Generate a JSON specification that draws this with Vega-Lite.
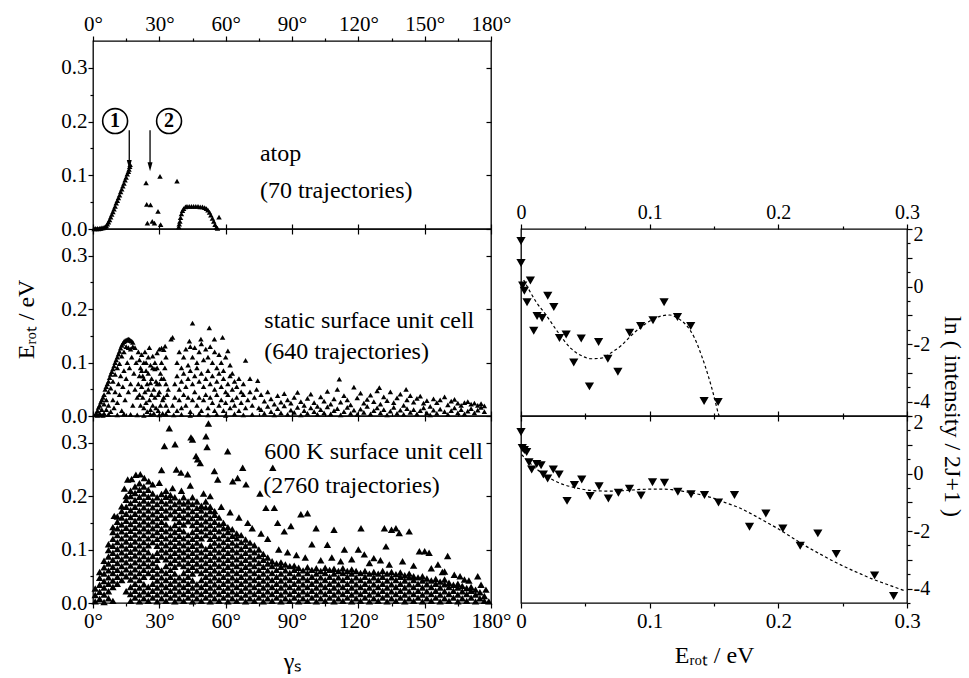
{
"$schema":"https://vega.github.io/schema/vega-lite/v6.json",
"background":"white",
"padding":{"left":13,"top":12,"right":5,"bottom":2},
"config":{"font":"'Liberation Serif', 'Times New Roman', serif","view":{"stroke":"black","strokeWidth":1.3},"axis":{"labelFont":"'Liberation Serif', 'Times New Roman', serif","labelFontSize":20,"labelColor":"black","titleFont":"'Liberation Serif', 'Times New Roman', serif","titleFontSize":23,"titleFontWeight":"normal","titleColor":"black","tickColor":"black","tickWidth":1.2,"grid":false,"domain":false},"text":{"font":"'Liberation Serif', 'Times New Roman', serif","color":"black"}},
"datasets":{
"atop":[{"g":0.5,"e":0},{"g":1,"e":0.001},{"g":1.5,"e":0},{"g":2,"e":0.001},{"g":2.5,"e":0},{"g":3,"e":0.001},{"g":3.5,"e":0.001},{"g":4,"e":0.002},{"g":4.5,"e":0.002},{"g":5,"e":0.003},{"g":5.5,"e":0.004},{"g":6,"e":0.006},{"g":6.5,"e":0.009},{"g":7,"e":0.013},{"g":7.5,"e":0.017},{"g":8,"e":0.022},{"g":8.5,"e":0.027},{"g":9,"e":0.032},{"g":9.5,"e":0.037},{"g":10,"e":0.042},{"g":10.5,"e":0.048},{"g":11,"e":0.053},{"g":11.5,"e":0.058},{"g":12,"e":0.063},{"g":12.5,"e":0.069},{"g":13,"e":0.074},{"g":13.5,"e":0.08},{"g":14,"e":0.085},{"g":14.5,"e":0.091},{"g":15,"e":0.096},{"g":15.5,"e":0.102},{"g":16,"e":0.107},{"g":16.3,"e":0.111},{"g":16.6,"e":0.116},{"g":16.8,"e":0.12},
{"g":24,"e":0.086},{"g":30.3,"e":0.098},{"g":38,"e":0.089},{"g":24.3,"e":0.046},{"g":26,"e":0.045},{"g":29.4,"e":0.033},{"g":24.6,"e":0.011},{"g":26.8,"e":0.014},{"g":27.8,"e":0.011},{"g":30.6,"e":0.008},{"g":38.8,"e":0.004},{"g":39,"e":0.009},
{"g":39.3,"e":0.014},{"g":39.6,"e":0.021},{"g":40,"e":0.028},{"g":40.5,"e":0.034},{"g":41,"e":0.038},{"g":41.8,"e":0.041},{"g":42.5,"e":0.042},{"g":43.5,"e":0.042},{"g":44.5,"e":0.042},{"g":45.5,"e":0.042},{"g":46.5,"e":0.042},{"g":47.5,"e":0.042},{"g":48.5,"e":0.041},{"g":49.5,"e":0.041},{"g":50.5,"e":0.04},{"g":51.3,"e":0.038},{"g":52,"e":0.035},{"g":52.7,"e":0.031},{"g":53.3,"e":0.026},{"g":54,"e":0.02},{"g":54.6,"e":0.014},{"g":55.2,"e":0.008},{"g":55.8,"e":0.003},{"g":56.3,"e":0.001},{"g":57,"e":0.022}],
"stat":[{"g":1,"e":0.002},{"g":1.5,"e":0.005},{"g":2,"e":0.01},{"g":2.5,"e":0.016},{"g":3,"e":0.02},{"g":3.5,"e":0.026},{"g":4,"e":0.03},{"g":4.5,"e":0.035},{"g":5,"e":0.04},{"g":5.5,"e":0.05},{"g":6,"e":0.055},{"g":6.5,"e":0.06},{"g":7,"e":0.065},{"g":7.5,"e":0.072},{"g":8,"e":0.078},{"g":8.5,"e":0.083},{"g":9,"e":0.088},{"g":9.5,"e":0.094},{"g":10,"e":0.1},{"g":10.5,"e":0.105},{"g":11,"e":0.11},{"g":11.5,"e":0.116},{"g":12,"e":0.121},{"g":12.5,"e":0.127},{"g":13,"e":0.132},{"g":13.5,"e":0.136},{"g":14,"e":0.139},{"g":14.5,"e":0.141},{"g":15,"e":0.142},{"g":15.5,"e":0.143},{"g":16,"e":0.144},{"g":16.5,"e":0.143},{"g":17,"e":0.141},{"g":17.5,"e":0.14},{"g":18,"e":0.138},
{"g":3,"e":0.005},{"g":4,"e":0.012},{"g":5,"e":0.022},{"g":6,"e":0.03},{"g":7,"e":0.045},{"g":8,"e":0.052},{"g":9,"e":0.065},{"g":10,"e":0.078},{"g":11,"e":0.09},{"g":12,"e":0.098},{"g":13,"e":0.112},{"g":14,"e":0.12},{"g":15,"e":0.13},{"g":16,"e":0.128},{"g":17,"e":0.125},{"g":18,"e":0.13},{"g":19,"e":0.128},
{"g":5,"e":0.005},{"g":6,"e":0.012},{"g":7,"e":0.02},{"g":8,"e":0.008},{"g":9,"e":0.03},{"g":9.5,"e":0.015},{"g":10,"e":0.045},{"g":11,"e":0.025},{"g":11.5,"e":0.06},{"g":12,"e":0.04},{"g":12.5,"e":0.075},{"g":13,"e":0.01},{"g":13.5,"e":0.055},{"g":14,"e":0.085},{"g":14.5,"e":0.03},{"g":15,"e":0.07},{"g":15.5,"e":0.1},{"g":16,"e":0.045},{"g":16.5,"e":0.09},{"g":17,"e":0.06},{"g":17.5,"e":0.11},{"g":18,"e":0.02},{"g":18.5,"e":0.08},{"g":19,"e":0.05},{"g":19.5,"e":0.1},{"g":20,"e":0.035},{"g":2,"e":0.001},{"g":3.5,"e":0.002},{"g":4.5,"e":0.001},{"g":7,"e":0.003},{"g":11,"e":0.002},{"g":14,"e":0.004},{"g":17,"e":0.003},
{"g":20.5,"e":0.12},{"g":21,"e":0.105},{"g":21.5,"e":0.09},{"g":22,"e":0.115},{"g":22.5,"e":0.075},{"g":23,"e":0.1},{"g":23.5,"e":0.12},{"g":24,"e":0.085},{"g":24.5,"e":0.06},{"g":25,"e":0.11},{"g":25.5,"e":0.128},{"g":26,"e":0.095},{"g":26.5,"e":0.07},{"g":27,"e":0.112},{"g":27.5,"e":0.05},{"g":28,"e":0.088},{"g":28.5,"e":0.065},{"g":29,"e":0.118},{"g":29.5,"e":0.04},{"g":30,"e":0.125},{"g":30.5,"e":0.08},{"g":31,"e":0.127},{"g":31.5,"e":0.03},{"g":32,"e":0.124},{"g":32.6,"e":0.131},{"g":33,"e":0.06},{"g":34,"e":0.05},{"g":35.3,"e":0.144},{"g":36,"e":0.147},
{"g":20.5,"e":0.06},{"g":21,"e":0.04},{"g":21.5,"e":0.02},{"g":22,"e":0.055},{"g":22.5,"e":0.035},{"g":23,"e":0.015},{"g":23.5,"e":0.045},{"g":24,"e":0.025},{"g":24.5,"e":0.008},{"g":25,"e":0.05},{"g":25.5,"e":0.03},{"g":26,"e":0.012},{"g":26.5,"e":0.04},{"g":27,"e":0.02},{"g":27.5,"e":0.005},{"g":28,"e":0.035},{"g":28.5,"e":0.015},{"g":29,"e":0.06},{"g":29.5,"e":0.01},{"g":30,"e":0.045},{"g":30.5,"e":0.02},{"g":31,"e":0.07},{"g":31.5,"e":0.005},{"g":32,"e":0.035},{"g":32.5,"e":0.09},{"g":33,"e":0.02},{"g":33.5,"e":0.04},{"g":34,"e":0.01},{"g":21,"e":0.075},{"g":22,"e":0.085},{"g":23,"e":0.07},{"g":24,"e":0.1},{"g":25,"e":0.08},{"g":26,"e":0.062},{"g":27,"e":0.09},{"g":28,"e":0.1},{"g":29,"e":0.09},{"g":30,"e":0.06},{"g":31,"e":0.1},{"g":32,"e":0.07},{"g":33,"e":0.11},{"g":20,"e":0.002},{"g":23,"e":0.001},{"g":26,"e":0.003},{"g":30,"e":0.002},{"g":33,"e":0.004},
{"g":45,"e":0.174},{"g":52.6,"e":0.165},{"g":43.6,"e":0.14},{"g":48.8,"e":0.144},{"g":54.9,"e":0.144},{"g":58.6,"e":0.147},{"g":61,"e":0.122},{"g":69,"e":0.104},{"g":74.5,"e":0.066},{"g":71,"e":0.07},
{"g":38,"e":0.1},{"g":39,"e":0.12},{"g":40,"e":0.09},{"g":41,"e":0.11},{"g":42,"e":0.125},{"g":43,"e":0.095},{"g":44,"e":0.13},{"g":45,"e":0.11},{"g":46,"e":0.128},{"g":47,"e":0.1},{"g":48,"e":0.12},{"g":49,"e":0.135},{"g":50,"e":0.105},{"g":51,"e":0.125},{"g":52,"e":0.11},{"g":53,"e":0.13},{"g":54,"e":0.1},{"g":55,"e":0.12},{"g":56,"e":0.09},{"g":57,"e":0.115},{"g":58,"e":0.1},{"g":59,"e":0.085},{"g":60,"e":0.11},{"g":62,"e":0.095},{"g":63,"e":0.08},
{"g":37,"e":0.06},{"g":38,"e":0.075},{"g":39,"e":0.05},{"g":40,"e":0.065},{"g":41,"e":0.08},{"g":42,"e":0.055},{"g":43,"e":0.07},{"g":44,"e":0.085},{"g":45,"e":0.06},{"g":46,"e":0.075},{"g":47,"e":0.09},{"g":48,"e":0.065},{"g":49,"e":0.08},{"g":50,"e":0.055},{"g":51,"e":0.07},{"g":52,"e":0.085},{"g":53,"e":0.06},{"g":54,"e":0.075},{"g":55,"e":0.05},{"g":56,"e":0.065},{"g":57,"e":0.08},{"g":58,"e":0.055},{"g":59,"e":0.07},{"g":60,"e":0.045},{"g":61,"e":0.06},{"g":62,"e":0.075},{"g":63,"e":0.05},{"g":64,"e":0.065},{"g":65,"e":0.055},{"g":66,"e":0.07},{"g":67,"e":0.045},{"g":68,"e":0.06},
{"g":36,"e":0.02},{"g":37,"e":0.035},{"g":38,"e":0.01},{"g":39,"e":0.03},{"g":40,"e":0.015},{"g":41,"e":0.04},{"g":42,"e":0.02},{"g":43,"e":0.035},{"g":44,"e":0.008},{"g":45,"e":0.03},{"g":46,"e":0.045},{"g":47,"e":0.02},{"g":48,"e":0.035},{"g":49,"e":0.01},{"g":50,"e":0.03},{"g":51,"e":0.04},{"g":52,"e":0.015},{"g":53,"e":0.035},{"g":54,"e":0.025},{"g":55,"e":0.01},{"g":56,"e":0.04},{"g":57,"e":0.02},{"g":58,"e":0.03},{"g":59,"e":0.01},{"g":60,"e":0.025},{"g":61,"e":0.04},{"g":62,"e":0.015},{"g":63,"e":0.03},{"g":64,"e":0.02},{"g":65,"e":0.035},{"g":66,"e":0.01},{"g":67,"e":0.025},{"g":68,"e":0.04},{"g":69,"e":0.015},{"g":70,"e":0.03},{"g":71,"e":0.045},{"g":72,"e":0.02},{"g":73,"e":0.035},{"g":74,"e":0.05},{"g":75,"e":0.015},
{"g":36.5,"e":0.002},{"g":40,"e":0.003},{"g":44,"e":0.001},{"g":48,"e":0.004},{"g":52,"e":0.002},{"g":56,"e":0.003},{"g":60,"e":0.001},{"g":64,"e":0.004},{"g":68,"e":0.002},{"g":72,"e":0.003},
{"g":76,"e":0.012},{"g":76,"e":0.04},{"g":77.5,"e":0.005},{"g":77.5,"e":0.028},{"g":79,"e":0.018},{"g":79,"e":0.045},{"g":80.5,"e":0.008},{"g":80.5,"e":0.032},{"g":82,"e":0.002},{"g":82,"e":0.022},{"g":83.5,"e":0.014},{"g":83.5,"e":0.038},{"g":85,"e":0.006},{"g":85,"e":0.026},{"g":86.5,"e":0.019},{"g":86.5,"e":0.042},{"g":88,"e":0.003},{"g":88,"e":0.03},{"g":89.5,"e":0.011},{"g":89.5,"e":0.024},{"g":91,"e":0.007},{"g":91,"e":0.035},{"g":92.5,"e":0.016},{"g":92.5,"e":0.044},{"g":94,"e":0.002},{"g":94,"e":0.027},{"g":95.5,"e":0.01},{"g":95.5,"e":0.02},{"g":97,"e":0.005},{"g":97,"e":0.033},{"g":98.5,"e":0.015},{"g":98.5,"e":0.041},{"g":100,"e":0.008},{"g":100,"e":0.025},{"g":101.5,"e":0.003},{"g":101.5,"e":0.018},{"g":103,"e":0.012},{"g":103,"e":0.036},{"g":104.5,"e":0.006},{"g":104.5,"e":0.028},{"g":106,"e":0.017},{"g":106,"e":0.046},{"g":107.5,"e":0.004},{"g":107.5,"e":0.022},{"g":109,"e":0.01},{"g":109,"e":0.032},{"g":110.5,"e":0.014},{"g":110.5,"e":0.05},{"g":111.4,"e":0.069},{"g":112,"e":0.002},{"g":112,"e":0.026},{"g":113.5,"e":0.008},{"g":113.5,"e":0.038},{"g":115,"e":0.016},{"g":115,"e":0.03},{"g":116.5,"e":0.005},{"g":116.5,"e":0.021},{"g":118,"e":0.011},{"g":118,"e":0.054},{"g":119.5,"e":0.003},{"g":119.5,"e":0.034},{"g":121,"e":0.013},{"g":121,"e":0.043},{"g":122.5,"e":0.007},{"g":122.5,"e":0.024},{"g":124,"e":0.018},{"g":124,"e":0.031},{"g":125.5,"e":0.004},{"g":125.5,"e":0.039},{"g":127,"e":0.01},{"g":127,"e":0.027},{"g":128.5,"e":0.015},{"g":128.5,"e":0.047},{"g":129.5,"e":0.053},{"g":130,"e":0.006},{"g":130,"e":0.022},{"g":131.5,"e":0.012},{"g":131.5,"e":0.036},{"g":133,"e":0.002},{"g":133,"e":0.029},{"g":134.5,"e":0.009},{"g":134.5,"e":0.045},{"g":136,"e":0.016},{"g":136,"e":0.025},{"g":137.5,"e":0.005},{"g":137.5,"e":0.034},{"g":139,"e":0.011},{"g":139,"e":0.041},{"g":140.5,"e":0.003},{"g":140.5,"e":0.02},{"g":141.6,"e":0.05},{"g":142,"e":0.014},{"g":142,"e":0.03},{"g":143.5,"e":0.007},{"g":143.5,"e":0.038},{"g":145,"e":0.012},{"g":145,"e":0.026},{"g":146.5,"e":0.004},{"g":146.5,"e":0.033},{"g":148,"e":0.01},{"g":148,"e":0.037},{"g":149.5,"e":0.015},{"g":149.5,"e":0.024},{"g":151,"e":0.006},{"g":151,"e":0.029},{"g":152.5,"e":0.002},{"g":152.5,"e":0.018},{"g":154,"e":0.011},{"g":154,"e":0.032},{"g":155.5,"e":0.005},{"g":155.5,"e":0.025},{"g":157,"e":0.013},{"g":157,"e":0.03},{"g":159,"e":0.008},{"g":159,"e":0.036},{"g":160.5,"e":0.003},{"g":160.5,"e":0.021},{"g":162,"e":0.01},{"g":162,"e":0.028},{"g":163.5,"e":0.015},{"g":163.5,"e":0.031},{"g":165,"e":0.006},{"g":165,"e":0.024},{"g":166.5,"e":0.012},{"g":166.5,"e":0.02},{"g":168,"e":0.004},{"g":168,"e":0.025},{"g":169.5,"e":0.009},{"g":169.5,"e":0.027},{"g":171,"e":0.014},{"g":171,"e":0.022},{"g":172.5,"e":0.006},{"g":172.5,"e":0.024},{"g":174,"e":0.011},{"g":174,"e":0.02},{"g":175.5,"e":0.016},{"g":175.5,"e":0.023},{"g":177,"e":0.008},{"g":177,"e":0.019}],
"hot":[{"g":1,"e":0.003},{"g":1,"e":0.015},{"g":1,"e":0.027},
{"g":3,"e":0.008},{"g":3,"e":0.021},{"g":3,"e":0.034},{"g":3,"e":0.047},{"g":3,"e":0.058},
{"g":5,"e":0.002},{"g":5,"e":0.016},{"g":5,"e":0.029},{"g":5,"e":0.041},{"g":5,"e":0.055},{"g":5,"e":0.067},{"g":5,"e":0.079},
{"g":7,"e":0.009},{"g":7,"e":0.022},{"g":7,"e":0.036},{"g":7,"e":0.048},{"g":7,"e":0.061},{"g":7,"e":0.074},{"g":7,"e":0.087},{"g":7,"e":0.099},{"g":7,"e":0.11},
{"g":9,"e":0.004},{"g":9,"e":0.03},{"g":9,"e":0.042},{"g":9,"e":0.056},{"g":9,"e":0.068},{"g":9,"e":0.081},{"g":9,"e":0.094},{"g":9,"e":0.107},{"g":9,"e":0.12},{"g":9,"e":0.133},{"g":9,"e":0.142},
{"g":11,"e":0.036},{"g":11,"e":0.049},{"g":11,"e":0.062},{"g":11,"e":0.075},{"g":11,"e":0.088},{"g":11,"e":0.101},{"g":11,"e":0.114},{"g":11,"e":0.127},{"g":11,"e":0.14},{"g":11,"e":0.152},{"g":11,"e":0.162},
{"g":13,"e":0.043},{"g":13,"e":0.056},{"g":13,"e":0.069},{"g":13,"e":0.082},{"g":13,"e":0.095},{"g":13,"e":0.108},{"g":13,"e":0.121},{"g":13,"e":0.134},{"g":13,"e":0.147},{"g":13,"e":0.16},{"g":13,"e":0.172},{"g":13,"e":0.181},
{"g":15,"e":0.022},{"g":15,"e":0.05},{"g":15,"e":0.063},{"g":15,"e":0.076},{"g":15,"e":0.089},{"g":15,"e":0.102},{"g":15,"e":0.115},{"g":15,"e":0.128},{"g":15,"e":0.141},{"g":15,"e":0.154},{"g":15,"e":0.167},{"g":15,"e":0.18},{"g":15,"e":0.193},{"g":15,"e":0.2},
{"g":17,"e":0.004},{"g":17,"e":0.017},{"g":17,"e":0.03},{"g":17,"e":0.044},{"g":17,"e":0.057},{"g":17,"e":0.07},{"g":17,"e":0.083},{"g":17,"e":0.096},{"g":17,"e":0.109},{"g":17,"e":0.122},{"g":17,"e":0.135},{"g":17,"e":0.148},{"g":17,"e":0.161},{"g":17,"e":0.174},{"g":17,"e":0.187},{"g":17,"e":0.2},{"g":17,"e":0.21},
{"g":19,"e":0.01},{"g":19,"e":0.023},{"g":19,"e":0.036},{"g":19,"e":0.05},{"g":19,"e":0.063},{"g":19,"e":0.076},{"g":19,"e":0.089},{"g":19,"e":0.102},{"g":19,"e":0.115},{"g":19,"e":0.128},{"g":19,"e":0.141},{"g":19,"e":0.154},{"g":19,"e":0.167},{"g":19,"e":0.18},{"g":19,"e":0.193},{"g":19,"e":0.206},{"g":19,"e":0.218},
{"g":21,"e":0.003},{"g":21,"e":0.016},{"g":21,"e":0.029},{"g":21,"e":0.043},{"g":21,"e":0.056},{"g":21,"e":0.069},{"g":21,"e":0.082},{"g":21,"e":0.095},{"g":21,"e":0.108},{"g":21,"e":0.121},{"g":21,"e":0.134},{"g":21,"e":0.147},{"g":21,"e":0.16},{"g":21,"e":0.173},{"g":21,"e":0.186},{"g":21,"e":0.199},{"g":21,"e":0.212},{"g":21,"e":0.224},
{"g":23,"e":0.009},{"g":23,"e":0.022},{"g":23,"e":0.035},{"g":23,"e":0.049},{"g":23,"e":0.062},{"g":23,"e":0.075},{"g":23,"e":0.088},{"g":23,"e":0.101},{"g":23,"e":0.114},{"g":23,"e":0.127},{"g":23,"e":0.14},{"g":23,"e":0.153},{"g":23,"e":0.166},{"g":23,"e":0.179},{"g":23,"e":0.192},{"g":23,"e":0.205},{"g":23,"e":0.218},
{"g":25,"e":0.004},{"g":25,"e":0.017},{"g":25,"e":0.03},{"g":25,"e":0.056},{"g":25,"e":0.069},{"g":25,"e":0.082},{"g":25,"e":0.095},{"g":25,"e":0.108},{"g":25,"e":0.121},{"g":25,"e":0.134},{"g":25,"e":0.147},{"g":25,"e":0.16},{"g":25,"e":0.173},{"g":25,"e":0.186},{"g":25,"e":0.199},{"g":25,"e":0.212},
{"g":27,"e":0.01},{"g":27,"e":0.023},{"g":27,"e":0.036},{"g":27,"e":0.049},{"g":27,"e":0.062},{"g":27,"e":0.075},{"g":27,"e":0.088},{"g":27,"e":0.114},{"g":27,"e":0.127},{"g":27,"e":0.14},{"g":27,"e":0.153},{"g":27,"e":0.166},{"g":27,"e":0.179},{"g":27,"e":0.192},{"g":27,"e":0.205},
{"g":29,"e":0.003},{"g":29,"e":0.016},{"g":29,"e":0.029},{"g":29,"e":0.042},{"g":29,"e":0.055},{"g":29,"e":0.068},{"g":29,"e":0.081},{"g":29,"e":0.094},{"g":29,"e":0.107},{"g":29,"e":0.12},{"g":29,"e":0.133},{"g":29,"e":0.146},{"g":29,"e":0.159},{"g":29,"e":0.172},{"g":29,"e":0.185},{"g":29,"e":0.198},
{"g":31,"e":0.009},{"g":31,"e":0.022},{"g":31,"e":0.035},{"g":31,"e":0.048},{"g":31,"e":0.061},{"g":31,"e":0.087},{"g":31,"e":0.1},{"g":31,"e":0.113},{"g":31,"e":0.126},{"g":31,"e":0.139},{"g":31,"e":0.152},{"g":31,"e":0.165},{"g":31,"e":0.178},{"g":31,"e":0.191},{"g":31,"e":0.204},
{"g":33,"e":0.004},{"g":33,"e":0.017},{"g":33,"e":0.03},{"g":33,"e":0.043},{"g":33,"e":0.056},{"g":33,"e":0.069},{"g":33,"e":0.082},{"g":33,"e":0.095},{"g":33,"e":0.108},{"g":33,"e":0.121},{"g":33,"e":0.134},{"g":33,"e":0.147},{"g":33,"e":0.16},{"g":33,"e":0.173},{"g":33,"e":0.186},{"g":33,"e":0.199},{"g":33,"e":0.21},
{"g":35,"e":0.01},{"g":35,"e":0.023},{"g":35,"e":0.036},{"g":35,"e":0.049},{"g":35,"e":0.062},{"g":35,"e":0.075},{"g":35,"e":0.088},{"g":35,"e":0.101},{"g":35,"e":0.114},{"g":35,"e":0.127},{"g":35,"e":0.14},{"g":35,"e":0.166},{"g":35,"e":0.179},{"g":35,"e":0.192},{"g":35,"e":0.202},
{"g":37,"e":0.003},{"g":37,"e":0.016},{"g":37,"e":0.029},{"g":37,"e":0.042},{"g":37,"e":0.055},{"g":37,"e":0.068},{"g":37,"e":0.081},{"g":37,"e":0.094},{"g":37,"e":0.107},{"g":37,"e":0.12},{"g":37,"e":0.133},{"g":37,"e":0.146},{"g":37,"e":0.159},{"g":37,"e":0.172},{"g":37,"e":0.185},{"g":37,"e":0.198},
{"g":39,"e":0.009},{"g":39,"e":0.022},{"g":39,"e":0.035},{"g":39,"e":0.048},{"g":39,"e":0.074},{"g":39,"e":0.087},{"g":39,"e":0.1},{"g":39,"e":0.113},{"g":39,"e":0.126},{"g":39,"e":0.139},{"g":39,"e":0.152},{"g":39,"e":0.165},{"g":39,"e":0.178},{"g":39,"e":0.19},
{"g":41,"e":0.004},{"g":41,"e":0.017},{"g":41,"e":0.03},{"g":41,"e":0.043},{"g":41,"e":0.056},{"g":41,"e":0.069},{"g":41,"e":0.082},{"g":41,"e":0.095},{"g":41,"e":0.108},{"g":41,"e":0.121},{"g":41,"e":0.134},{"g":41,"e":0.147},{"g":41,"e":0.16},{"g":41,"e":0.173},{"g":41,"e":0.186},{"g":41,"e":0.198},
{"g":43,"e":0.01},{"g":43,"e":0.023},{"g":43,"e":0.036},{"g":43,"e":0.049},{"g":43,"e":0.062},{"g":43,"e":0.075},{"g":43,"e":0.088},{"g":43,"e":0.101},{"g":43,"e":0.114},{"g":43,"e":0.127},{"g":43,"e":0.153},{"g":43,"e":0.166},{"g":43,"e":0.179},{"g":43,"e":0.19},
{"g":45,"e":0.003},{"g":45,"e":0.016},{"g":45,"e":0.029},{"g":45,"e":0.042},{"g":45,"e":0.055},{"g":45,"e":0.068},{"g":45,"e":0.081},{"g":45,"e":0.094},{"g":45,"e":0.107},{"g":45,"e":0.12},{"g":45,"e":0.133},{"g":45,"e":0.146},{"g":45,"e":0.159},{"g":45,"e":0.172},{"g":45,"e":0.185},{"g":45,"e":0.198},
{"g":47,"e":0.009},{"g":47,"e":0.022},{"g":47,"e":0.035},{"g":47,"e":0.061},{"g":47,"e":0.074},{"g":47,"e":0.087},{"g":47,"e":0.1},{"g":47,"e":0.113},{"g":47,"e":0.126},{"g":47,"e":0.139},{"g":47,"e":0.152},{"g":47,"e":0.165},{"g":47,"e":0.178},{"g":47,"e":0.19},
{"g":49,"e":0.004},{"g":49,"e":0.017},{"g":49,"e":0.03},{"g":49,"e":0.043},{"g":49,"e":0.056},{"g":49,"e":0.069},{"g":49,"e":0.082},{"g":49,"e":0.095},{"g":49,"e":0.108},{"g":49,"e":0.121},{"g":49,"e":0.134},{"g":49,"e":0.147},{"g":49,"e":0.16},{"g":49,"e":0.173},{"g":49,"e":0.182},
{"g":51,"e":0.01},{"g":51,"e":0.023},{"g":51,"e":0.036},{"g":51,"e":0.049},{"g":51,"e":0.062},{"g":51,"e":0.075},{"g":51,"e":0.088},{"g":51,"e":0.101},{"g":51,"e":0.127},{"g":51,"e":0.14},{"g":51,"e":0.153},{"g":51,"e":0.166},{"g":51,"e":0.179},{"g":51,"e":0.19},
{"g":53,"e":0.003},{"g":53,"e":0.016},{"g":53,"e":0.029},{"g":53,"e":0.042},{"g":53,"e":0.055},{"g":53,"e":0.068},{"g":53,"e":0.081},{"g":53,"e":0.094},{"g":53,"e":0.107},{"g":53,"e":0.12},{"g":53,"e":0.133},{"g":53,"e":0.146},{"g":53,"e":0.159},{"g":53,"e":0.172},{"g":53,"e":0.18},
{"g":55,"e":0.009},{"g":55,"e":0.022},{"g":55,"e":0.035},{"g":55,"e":0.048},{"g":55,"e":0.061},{"g":55,"e":0.074},{"g":55,"e":0.087},{"g":55,"e":0.1},{"g":55,"e":0.113},{"g":55,"e":0.126},{"g":55,"e":0.139},{"g":55,"e":0.152},{"g":55,"e":0.165},{"g":55,"e":0.172},
{"g":57,"e":0.004},{"g":57,"e":0.017},{"g":57,"e":0.03},{"g":57,"e":0.043},{"g":57,"e":0.056},{"g":57,"e":0.069},{"g":57,"e":0.082},{"g":57,"e":0.095},{"g":57,"e":0.108},{"g":57,"e":0.121},{"g":57,"e":0.134},{"g":57,"e":0.147},{"g":57,"e":0.16},
{"g":59,"e":0.01},{"g":59,"e":0.023},{"g":59,"e":0.036},{"g":59,"e":0.049},{"g":59,"e":0.062},{"g":59,"e":0.075},{"g":59,"e":0.088},{"g":59,"e":0.101},{"g":59,"e":0.114},{"g":59,"e":0.127},{"g":59,"e":0.14},{"g":59,"e":0.15},
{"g":61,"e":0.003},{"g":61,"e":0.016},{"g":61,"e":0.029},{"g":61,"e":0.042},{"g":61,"e":0.055},{"g":61,"e":0.068},{"g":61,"e":0.081},{"g":61,"e":0.094},{"g":61,"e":0.107},{"g":61,"e":0.12},{"g":61,"e":0.133},{"g":61,"e":0.142},
{"g":63,"e":0.009},{"g":63,"e":0.022},{"g":63,"e":0.035},{"g":63,"e":0.048},{"g":63,"e":0.061},{"g":63,"e":0.074},{"g":63,"e":0.087},{"g":63,"e":0.1},{"g":63,"e":0.113},{"g":63,"e":0.126},{"g":63,"e":0.138},
{"g":65,"e":0.004},{"g":65,"e":0.017},{"g":65,"e":0.03},{"g":65,"e":0.043},{"g":65,"e":0.056},{"g":65,"e":0.069},{"g":65,"e":0.082},{"g":65,"e":0.095},{"g":65,"e":0.108},{"g":65,"e":0.121},{"g":65,"e":0.13},
{"g":67,"e":0.01},{"g":67,"e":0.023},{"g":67,"e":0.036},{"g":67,"e":0.049},{"g":67,"e":0.062},{"g":67,"e":0.075},{"g":67,"e":0.088},{"g":67,"e":0.101},{"g":67,"e":0.114},{"g":67,"e":0.127},
{"g":69,"e":0.003},{"g":69,"e":0.016},{"g":69,"e":0.029},{"g":69,"e":0.042},{"g":69,"e":0.055},{"g":69,"e":0.068},{"g":69,"e":0.081},{"g":69,"e":0.094},{"g":69,"e":0.107},{"g":69,"e":0.119},
{"g":71,"e":0.009},{"g":71,"e":0.022},{"g":71,"e":0.035},{"g":71,"e":0.048},{"g":71,"e":0.061},{"g":71,"e":0.074},{"g":71,"e":0.087},{"g":71,"e":0.1},{"g":71,"e":0.113},
{"g":73,"e":0.004},{"g":73,"e":0.017},{"g":73,"e":0.03},{"g":73,"e":0.043},{"g":73,"e":0.056},{"g":73,"e":0.069},{"g":73,"e":0.082},{"g":73,"e":0.095},{"g":73,"e":0.108},
{"g":75,"e":0.01},{"g":75,"e":0.023},{"g":75,"e":0.036},{"g":75,"e":0.049},{"g":75,"e":0.062},{"g":75,"e":0.075},{"g":75,"e":0.088},{"g":75,"e":0.1},
{"g":77,"e":0.003},{"g":77,"e":0.016},{"g":77,"e":0.029},{"g":77,"e":0.042},{"g":77,"e":0.055},{"g":77,"e":0.068},{"g":77,"e":0.081},{"g":77,"e":0.092},
{"g":79,"e":0.009},{"g":79,"e":0.022},{"g":79,"e":0.035},{"g":79,"e":0.048},{"g":79,"e":0.061},{"g":79,"e":0.074},{"g":79,"e":0.085},
{"g":81,"e":0.004},{"g":81,"e":0.017},{"g":81,"e":0.03},{"g":81,"e":0.043},{"g":81,"e":0.056},{"g":81,"e":0.069},{"g":81,"e":0.078},
{"g":83,"e":0.01},{"g":83,"e":0.023},{"g":83,"e":0.036},{"g":83,"e":0.049},{"g":83,"e":0.062},{"g":83,"e":0.074},
{"g":85,"e":0.003},{"g":85,"e":0.016},{"g":85,"e":0.029},{"g":85,"e":0.042},{"g":85,"e":0.055},{"g":85,"e":0.068},{"g":85,"e":0.076},
{"g":87,"e":0.009},{"g":87,"e":0.022},{"g":87,"e":0.035},{"g":87,"e":0.048},{"g":87,"e":0.061},{"g":87,"e":0.072},
{"g":89,"e":0.004},{"g":89,"e":0.017},{"g":89,"e":0.03},{"g":89,"e":0.043},{"g":89,"e":0.056},{"g":89,"e":0.069},
{"g":91,"e":0.01},{"g":91,"e":0.023},{"g":91,"e":0.036},{"g":91,"e":0.049},{"g":91,"e":0.062},{"g":91,"e":0.07},
{"g":93,"e":0.003},{"g":93,"e":0.016},{"g":93,"e":0.029},{"g":93,"e":0.042},{"g":93,"e":0.055},{"g":93,"e":0.066},
{"g":95,"e":0.009},{"g":95,"e":0.022},{"g":95,"e":0.035},{"g":95,"e":0.048},{"g":95,"e":0.061},
{"g":97,"e":0.004},{"g":97,"e":0.017},{"g":97,"e":0.03},{"g":97,"e":0.043},{"g":97,"e":0.056},{"g":97,"e":0.067},
{"g":99,"e":0.01},{"g":99,"e":0.023},{"g":99,"e":0.036},{"g":99,"e":0.049},{"g":99,"e":0.062},
{"g":101,"e":0.003},{"g":101,"e":0.016},{"g":101,"e":0.029},{"g":101,"e":0.042},{"g":101,"e":0.055},{"g":101,"e":0.065},
{"g":103,"e":0.009},{"g":103,"e":0.022},{"g":103,"e":0.035},{"g":103,"e":0.048},{"g":103,"e":0.06},
{"g":105,"e":0.004},{"g":105,"e":0.017},{"g":105,"e":0.03},{"g":105,"e":0.043},{"g":105,"e":0.056},{"g":105,"e":0.066},
{"g":107,"e":0.01},{"g":107,"e":0.023},{"g":107,"e":0.036},{"g":107,"e":0.049},{"g":107,"e":0.062},
{"g":109,"e":0.003},{"g":109,"e":0.016},{"g":109,"e":0.029},{"g":109,"e":0.042},{"g":109,"e":0.055},{"g":109,"e":0.064},
{"g":111,"e":0.009},{"g":111,"e":0.022},{"g":111,"e":0.035},{"g":111,"e":0.048},{"g":111,"e":0.06},
{"g":113,"e":0.004},{"g":113,"e":0.017},{"g":113,"e":0.03},{"g":113,"e":0.043},{"g":113,"e":0.056},{"g":113,"e":0.065},
{"g":115,"e":0.01},{"g":115,"e":0.023},{"g":115,"e":0.036},{"g":115,"e":0.049},{"g":115,"e":0.06},
{"g":117,"e":0.003},{"g":117,"e":0.016},{"g":117,"e":0.029},{"g":117,"e":0.042},{"g":117,"e":0.055},{"g":117,"e":0.063},
{"g":119,"e":0.009},{"g":119,"e":0.022},{"g":119,"e":0.035},{"g":119,"e":0.048},{"g":119,"e":0.06},
{"g":121,"e":0.004},{"g":121,"e":0.017},{"g":121,"e":0.03},{"g":121,"e":0.043},{"g":121,"e":0.056},
{"g":123,"e":0.01},{"g":123,"e":0.023},{"g":123,"e":0.036},{"g":123,"e":0.049},{"g":123,"e":0.06},
{"g":125,"e":0.003},{"g":125,"e":0.016},{"g":125,"e":0.029},{"g":125,"e":0.042},{"g":125,"e":0.055},
{"g":127,"e":0.009},{"g":127,"e":0.022},{"g":127,"e":0.035},{"g":127,"e":0.048},{"g":127,"e":0.058},
{"g":129,"e":0.004},{"g":129,"e":0.017},{"g":129,"e":0.03},{"g":129,"e":0.043},{"g":129,"e":0.055},
{"g":131,"e":0.01},{"g":131,"e":0.023},{"g":131,"e":0.036},{"g":131,"e":0.049},{"g":131,"e":0.06},
{"g":133,"e":0.003},{"g":133,"e":0.016},{"g":133,"e":0.029},{"g":133,"e":0.042},{"g":133,"e":0.055},
{"g":135,"e":0.009},{"g":135,"e":0.022},{"g":135,"e":0.035},{"g":135,"e":0.048},{"g":135,"e":0.058},
{"g":137,"e":0.004},{"g":137,"e":0.017},{"g":137,"e":0.03},{"g":137,"e":0.043},{"g":137,"e":0.054},
{"g":139,"e":0.01},{"g":139,"e":0.023},{"g":139,"e":0.036},{"g":139,"e":0.049},{"g":139,"e":0.057},
{"g":141,"e":0.003},{"g":141,"e":0.016},{"g":141,"e":0.029},{"g":141,"e":0.042},{"g":141,"e":0.052},
{"g":143,"e":0.009},{"g":143,"e":0.022},{"g":143,"e":0.035},{"g":143,"e":0.048},{"g":143,"e":0.055},
{"g":145,"e":0.004},{"g":145,"e":0.017},{"g":145,"e":0.03},{"g":145,"e":0.043},{"g":145,"e":0.05},
{"g":147,"e":0.01},{"g":147,"e":0.023},{"g":147,"e":0.036},{"g":147,"e":0.048},
{"g":149,"e":0.003},{"g":149,"e":0.016},{"g":149,"e":0.029},{"g":149,"e":0.042},{"g":149,"e":0.05},
{"g":151,"e":0.009},{"g":151,"e":0.022},{"g":151,"e":0.035},{"g":151,"e":0.046},
{"g":153,"e":0.004},{"g":153,"e":0.017},{"g":153,"e":0.03},{"g":153,"e":0.042},
{"g":155,"e":0.01},{"g":155,"e":0.023},{"g":155,"e":0.036},{"g":155,"e":0.045},
{"g":157,"e":0.003},{"g":157,"e":0.016},{"g":157,"e":0.029},{"g":157,"e":0.04},
{"g":159,"e":0.009},{"g":159,"e":0.022},{"g":159,"e":0.035},{"g":159,"e":0.044},
{"g":161,"e":0.004},{"g":161,"e":0.017},{"g":161,"e":0.03},{"g":161,"e":0.038},
{"g":163,"e":0.01},{"g":163,"e":0.023},{"g":163,"e":0.034},
{"g":165,"e":0.003},{"g":165,"e":0.016},{"g":165,"e":0.029},{"g":165,"e":0.036},
{"g":167,"e":0.009},{"g":167,"e":0.022},{"g":167,"e":0.032},
{"g":169,"e":0.004},{"g":169,"e":0.017},{"g":169,"e":0.028},
{"g":171,"e":0.01},{"g":171,"e":0.023},{"g":171,"e":0.03},
{"g":173,"e":0.003},{"g":173,"e":0.016},{"g":173,"e":0.025},
{"g":175,"e":0.009},{"g":175,"e":0.02},{"g":177,"e":0.004},{"g":177,"e":0.013},{"g":179,"e":0.003},
{"g":9.6,"e":0.163},{"g":14.2,"e":0.214},{"g":15.7,"e":0.231},{"g":17.5,"e":0.232},{"g":19.4,"e":0.24},{"g":21.4,"e":0.241},{"g":23.2,"e":0.234},{"g":25.2,"e":0.228},{"g":27,"e":0.222},{"g":31,"e":0.249},{"g":32.3,"e":0.294},{"g":34.5,"e":0.327},{"g":37.1,"e":0.297},{"g":37.7,"e":0.25},{"g":39.8,"e":0.244},{"g":42.8,"e":0.241},{"g":44.3,"e":0.31},{"g":45,"e":0.306},{"g":46.6,"e":0.275},{"g":47.3,"e":0.269},{"g":48.5,"e":0.262},{"g":51.1,"e":0.312},{"g":51.6,"e":0.292},{"g":52.2,"e":0.336},{"g":54.9,"e":0.247},{"g":56.4,"e":0.231},{"g":60.9,"e":0.284},{"g":63.2,"e":0.228},{"g":65.4,"e":0.234},{"g":67.7,"e":0.253},{"g":69.2,"e":0.222},{"g":75.5,"e":0.205},{"g":78.2,"e":0.178},{"g":81.3,"e":0.253},{"g":82,"e":0.178},{"g":83.5,"e":0.15},{"g":86.5,"e":0.134},{"g":89.5,"e":0.144},{"g":94,"e":0.166},{"g":97,"e":0.168},{"g":100.9,"e":0.14},{"g":106,"e":0.109},{"g":109,"e":0.137},{"g":113.7,"e":0.1},{"g":121.2,"e":0.14},{"g":122.7,"e":0.091},{"g":127,"e":0.084},{"g":131.8,"e":0.14},{"g":132.5,"e":0.106},{"g":135,"e":0.137},{"g":137,"e":0.14},{"g":138.5,"e":0.131},{"g":143,"e":0.134},{"g":147.6,"e":0.097},{"g":150,"e":0.097},{"g":152,"e":0.094},{"g":156,"e":0.072},{"g":160.4,"e":0.088},{"g":159,"e":0.059},{"g":163.4,"e":0.053},{"g":168,"e":0.044},{"g":174,"e":0.05},{"g":175.5,"e":0.034},{"g":177.7,"e":0.025},
{"g":30,"e":0.225},{"g":36,"e":0.215},{"g":40,"e":0.21},{"g":44,"e":0.22},{"g":50,"e":0.205},{"g":53,"e":0.2},{"g":58,"e":0.18},{"g":62,"e":0.17},{"g":66,"e":0.16},{"g":70,"e":0.15},{"g":72,"e":0.14},{"g":76,"e":0.13},{"g":79,"e":0.12},{"g":84,"e":0.1},{"g":88,"e":0.095},{"g":92,"e":0.09},{"g":96,"e":0.085},{"g":99,"e":0.11},{"g":103,"e":0.08},{"g":108,"e":0.085},{"g":112,"e":0.078},{"g":117,"e":0.082},{"g":120,"e":0.1},{"g":125,"e":0.075},{"g":130,"e":0.08},{"g":134,"e":0.072},{"g":140,"e":0.078},{"g":145,"e":0.07},{"g":153,"e":0.065},{"g":158,"e":0.058},{"g":166,"e":0.05},{"g":170,"e":0.042}],
"rt":[{"x":0,"l":1.58},{"x":0,"l":0.82},{"x":0.0013,"l":0.04},{"x":0.0026,"l":-0.15},{"x":0.0073,"l":0.21},{"x":0.0047,"l":-0.55},{"x":0.0125,"l":-1.02},{"x":0.0164,"l":-1.09},{"x":0.0099,"l":-1.54},{"x":0.0208,"l":-0.32},{"x":0.0255,"l":-0.71},{"x":0.0299,"l":-1.79},{"x":0.0351,"l":-1.67},{"x":0.0468,"l":-1.81},{"x":0.041,"l":-2.64},{"x":0.0603,"l":-1.93},{"x":0.0675,"l":-2.51},{"x":0.0532,"l":-3.47},{"x":0.0753,"l":-2.96},{"x":0.0844,"l":-1.61},{"x":0.093,"l":-1.37},{"x":0.1026,"l":-1.17},{"x":0.1112,"l":-0.55},{"x":0.1216,"l":-1.06},{"x":0.1319,"l":-1.37},{"x":0.1423,"l":-3.98},{"x":0.1532,"l":-4.01}],
"rtc":[{"x":0.0021,"l":0.23},{"x":0.0117,"l":-0.53},{"x":0.0195,"l":-0.99},{"x":0.0286,"l":-1.58},{"x":0.039,"l":-2.16},{"x":0.0468,"l":-2.4},{"x":0.0545,"l":-2.51},{"x":0.0623,"l":-2.49},{"x":0.0701,"l":-2.3},{"x":0.0779,"l":-2.05},{"x":0.0857,"l":-1.7},{"x":0.0935,"l":-1.4},{"x":0.1013,"l":-1.17},{"x":0.1091,"l":-1.02},{"x":0.1156,"l":-0.99},{"x":0.1221,"l":-1.11},{"x":0.1286,"l":-1.35},{"x":0.1351,"l":-1.81},{"x":0.1403,"l":-2.4},{"x":0.1455,"l":-3.1},{"x":0.1506,"l":-3.92},{"x":0.1532,"l":-4.39},{"x":0.154,"l":-4.5}],
"rb":[{"x":0,"l":1.44},{"x":0.001,"l":0.89},{"x":0.0026,"l":0.82},{"x":0.0044,"l":0.75},{"x":0.0062,"l":0.39},{"x":0.0083,"l":0.14},{"x":0.0122,"l":0.33},{"x":0.0156,"l":0.29},{"x":0.0174,"l":-0.03},{"x":0.0207,"l":-0.17},{"x":0.0251,"l":0.14},{"x":0.0296,"l":-0.03},{"x":0.0358,"l":-0.95},{"x":0.0415,"l":-0.4},{"x":0.0472,"l":-0.21},{"x":0.0537,"l":-0.78},{"x":0.0607,"l":-0.44},{"x":0.0679,"l":-0.87},{"x":0.0757,"l":-0.67},{"x":0.0843,"l":-0.53},{"x":0.0933,"l":-0.76},{"x":0.1022,"l":-0.3},{"x":0.1115,"l":-0.32},{"x":0.1219,"l":-0.63},{"x":0.1322,"l":-0.72},{"x":0.1426,"l":-0.75},{"x":0.1535,"l":-1.01},{"x":0.1659,"l":-0.75},{"x":0.1776,"l":-1.85},{"x":0.1903,"l":-1.39},{"x":0.2035,"l":-1.91},{"x":0.217,"l":-2.51},{"x":0.2307,"l":-2.08},{"x":0.245,"l":-2.8},{"x":0.2748,"l":-3.54},{"x":0.2896,"l":-4.26}],
"rbc":[{"x":0.0005,"l":0.66},{"x":0.0109,"l":0.2},{"x":0.0213,"l":-0.13},{"x":0.0316,"l":-0.36},{"x":0.042,"l":-0.49},{"x":0.055,"l":-0.59},{"x":0.0679,"l":-0.61},{"x":0.0809,"l":-0.59},{"x":0.0939,"l":-0.55},{"x":0.1068,"l":-0.54},{"x":0.1172,"l":-0.56},{"x":0.1276,"l":-0.63},{"x":0.1379,"l":-0.72},{"x":0.1483,"l":-0.84},{"x":0.1587,"l":-1.01},{"x":0.169,"l":-1.18},{"x":0.1794,"l":-1.41},{"x":0.1898,"l":-1.67},{"x":0.2002,"l":-1.93},{"x":0.2105,"l":-2.22},{"x":0.2209,"l":-2.51},{"x":0.2313,"l":-2.77},{"x":0.2416,"l":-3.02},{"x":0.252,"l":-3.25},{"x":0.2624,"l":-3.46},{"x":0.2728,"l":-3.66},{"x":0.2831,"l":-3.83},{"x":0.2935,"l":-4.0},{"x":0.2987,"l":-4.08}]
},
"columns":2,
"bounds":"flush",
"spacing":{"row":0,"column":30},
"concat":[
{"width":398,"height":188,
 "layer":[
  {"data":{"name":"atop"},"mark":{"type":"point","shape":"triangle-up","filled":true,"color":"black","opacity":1,"size":30,"strokeWidth":0},
   "encoding":{"x":{"field":"g","type":"quantitative","scale":{"domain":[0,180],"nice":false},"axis":{"orient":"top","values":[0,15,30,45,60,75,90,105,120,135,150,165,180],"labelExpr":"datum.value % 30 === 0 ? datum.value + '°' : ''","tickSize":{"condition":{"test":"datum.value % 30 === 0","value":5},"value":3},"title":null,"labelOverlap":false,"labelFlush":false,"labelBound":false,"labelPadding":2,"labelFontSize":21}},
    "y":{"field":"e","type":"quantitative","scale":{"domain":[0,0.35],"nice":false,"zero":false},"axis":{"orient":"left","values":[0,0.05,0.1,0.15,0.2,0.25,0.3],"labelExpr":"round(datum.value*100) % 10 === 0 ? format(datum.value, '.1f') : ''","tickSize":{"condition":{"test":"round(datum.value*100) % 10 === 0","value":5},"value":3},"title":null,"labelOverlap":false,"labelFlush":false,"labelBound":false,"labelPadding":1,"labelFontSize":21}}}},
  {"data":{"values":[{}]},
   "layer":[
    {"mark":{"type":"text","text":"atop","align":"left","baseline":"middle","fontSize":24},
     "encoding":{"x":{"datum":75.5,"type":"quantitative","scale":{"domain":[0,180],"nice":false},"axis":{"orient":"bottom","values":[0,15,30,45,60,75,90,105,120,135,150,165,180],"labels":false,"tickSize":{"condition":{"test":"datum.value % 30 === 0","value":-5},"value":-3},"title":null}},
      "y":{"datum":0.139,"type":"quantitative","scale":{"domain":[0,0.35],"nice":false,"zero":false},"axis":{"orient":"right","values":[0,0.05,0.1,0.15,0.2,0.25,0.3],"labels":false,"tickSize":{"condition":{"test":"round(datum.value*100) % 10 === 0","value":-5},"value":-3},"title":null}}}},
    {"mark":{"type":"text","text":"(70 trajectories)","align":"left","baseline":"middle","fontSize":24},"encoding":{"x":{"datum":75.5,"type":"quantitative"},"y":{"datum":0.071,"type":"quantitative"}}},
    {"mark":{"type":"rule","color":"black","strokeWidth":1.3},"encoding":{"x":{"datum":16.4,"type":"quantitative"},"y":{"datum":0.184,"type":"quantitative"},"y2":{"datum":0.125}}},
    {"mark":{"type":"rule","color":"black","strokeWidth":1.3},"encoding":{"x":{"datum":25.8,"type":"quantitative"},"y":{"datum":0.184,"type":"quantitative"},"y2":{"datum":0.12}}},
    {"mark":{"type":"point","shape":"M-0.55,-1L0.55,-1L0,1Z","filled":true,"color":"black","opacity":1,"size":81,"strokeWidth":0},"encoding":{"x":{"datum":16.4,"type":"quantitative"},"y":{"datum":0.12,"type":"quantitative"}}},
    {"mark":{"type":"point","shape":"M-0.55,-1L0.55,-1L0,1Z","filled":true,"color":"black","opacity":1,"size":81,"strokeWidth":0},"encoding":{"x":{"datum":25.8,"type":"quantitative"},"y":{"datum":0.116,"type":"quantitative"}}},
    {"mark":{"type":"point","shape":"circle","filled":false,"stroke":"black","strokeWidth":1.6,"opacity":1,"size":620},"encoding":{"x":{"datum":10,"type":"quantitative"},"y":{"datum":0.201,"type":"quantitative"}}},
    {"mark":{"type":"point","shape":"circle","filled":false,"stroke":"black","strokeWidth":1.6,"opacity":1,"size":620},"encoding":{"x":{"datum":34.4,"type":"quantitative"},"y":{"datum":0.201,"type":"quantitative"}}},
    {"mark":{"type":"text","text":"1","fontWeight":"bold","fontSize":20,"align":"center","baseline":"middle"},"encoding":{"x":{"datum":10,"type":"quantitative"},"y":{"datum":0.201,"type":"quantitative"}}},
    {"mark":{"type":"text","text":"2","fontWeight":"bold","fontSize":20,"align":"center","baseline":"middle"},"encoding":{"x":{"datum":34.4,"type":"quantitative"},"y":{"datum":0.201,"type":"quantitative"}}}
   ]}
 ],
 "resolve":{"scale":{"x":"independent","y":"independent"},"axis":{"x":"independent","y":"independent"}}
},
{"width":386,"height":188,"data":{"values":[{}]},"mark":{"type":"point","opacity":0},"encoding":{},"view":{"stroke":null}},
{"width":398,"height":187,
 "layer":[
  {"data":{"name":"stat"},"mark":{"type":"point","shape":"triangle-up","filled":true,"color":"black","opacity":1,"size":30,"strokeWidth":0},
   "encoding":{"x":{"field":"g","type":"quantitative","scale":{"domain":[0,180],"nice":false},"axis":{"orient":"bottom","values":[0,15,30,45,60,75,90,105,120,135,150,165,180],"labels":false,"tickSize":{"condition":{"test":"datum.value % 30 === 0","value":-5},"value":-3},"title":null}},
    "y":{"field":"e","type":"quantitative","scale":{"domain":[0,0.35],"nice":false,"zero":false},"axis":{"orient":"left","values":[0,0.05,0.1,0.15,0.2,0.25,0.3],"labelExpr":"round(datum.value*100) % 10 === 0 ? format(datum.value, '.1f') : ''","tickSize":{"condition":{"test":"round(datum.value*100) % 10 === 0","value":5},"value":3},"labelOverlap":false,"labelFlush":false,"labelBound":false,"labelPadding":1,"labelFontSize":21,"title":"Eᵣₒₜ / eV","titleFontSize":24,"titleAngle":-90,"titleX":-67,"titleY":90,"titleAlign":"center","titleBaseline":"middle"}}}},
  {"data":{"values":[{}]},
   "layer":[
    {"mark":{"type":"text","text":"static surface unit cell","align":"left","baseline":"middle","fontSize":24},
     "encoding":{"x":{"datum":77.5,"type":"quantitative","scale":{"domain":[0,180],"nice":false},"axis":{"orient":"top","values":[0,15,30,45,60,75,90,105,120,135,150,165,180],"labels":false,"tickSize":{"condition":{"test":"datum.value % 30 === 0","value":-5},"value":-3},"title":null}},
      "y":{"datum":0.178,"type":"quantitative","scale":{"domain":[0,0.35],"nice":false,"zero":false},"axis":{"orient":"right","values":[0,0.05,0.1,0.15,0.2,0.25,0.3],"labels":false,"tickSize":{"condition":{"test":"round(datum.value*100) % 10 === 0","value":-5},"value":-3},"title":null}}}},
    {"mark":{"type":"text","text":"(640 trajectories)","align":"left","baseline":"middle","fontSize":24},"encoding":{"x":{"datum":77.5,"type":"quantitative"},"y":{"datum":0.12,"type":"quantitative"}}}
   ]}
 ],
 "resolve":{"scale":{"x":"independent","y":"independent"},"axis":{"x":"independent","y":"independent"}}
},
{"width":386,"height":187,
 "layer":[
  {"data":{"name":"rt"},"mark":{"type":"point","shape":"triangle-down","filled":true,"color":"black","opacity":1,"size":85,"strokeWidth":0},
   "encoding":{"x":{"field":"x","type":"quantitative","scale":{"domain":[0,0.3],"nice":false,"zero":false},"axis":{"orient":"top","values":[0,0.05,0.1,0.15,0.2,0.25,0.3],"labelExpr":"datum.value === 0 ? '0' : (round(datum.value*100) % 10 === 0 ? format(datum.value, '.1f') : '')","tickSize":{"condition":{"test":"round(datum.value*100) % 10 === 0","value":5},"value":3},"title":null,"labelOverlap":false,"labelFlush":false,"labelBound":false,"labelPadding":2}},
    "y":{"field":"l","type":"quantitative","scale":{"domain":[-4.5,2],"nice":false,"zero":false},"axis":{"orient":"right","values":[-4.5,-4,-3.5,-3,-2.5,-2,-1.5,-1,-0.5,0,0.5,1,1.5,2],"labelExpr":"datum.value % 2 === 0 ? '' + datum.value : ''","labelOffset":{"condition":{"test":"datum.value === 2","value":5},"value":0},"tickSize":{"condition":{"test":"datum.value % 1 === 0","value":5},"value":3},"labelOverlap":false,"labelFlush":false,"labelBound":false,"labelPadding":1,"title":"ln ( intensity / 2J+1 )","titleFontSize":24,"titleAngle":90,"titleX":44,"titleY":187,"titleAlign":"center","titleBaseline":"middle"}}}},
  {"data":{"name":"rtc"},"mark":{"type":"line","color":"black","strokeWidth":1.2,"strokeDash":[3,2.5],"interpolate":"monotone"},
   "encoding":{"x":{"field":"x","type":"quantitative","scale":{"domain":[0,0.3],"nice":false,"zero":false},"axis":{"orient":"bottom","values":[0,0.05,0.1,0.15,0.2,0.25,0.3],"labels":false,"tickSize":{"condition":{"test":"round(datum.value*100) % 10 === 0","value":-5},"value":-3},"title":null}},
    "y":{"field":"l","type":"quantitative","scale":{"domain":[-4.5,2],"nice":false,"zero":false},"axis":null}}}
 ],
 "resolve":{"scale":{"x":"independent","y":"independent"},"axis":{"x":"independent","y":"independent"}}
},
{"width":398,"height":187,
 "layer":[
  {"data":{"name":"hot"},"mark":{"type":"point","shape":"triangle-up","filled":true,"color":"black","opacity":1,"size":55,"strokeWidth":0},
   "encoding":{"x":{"field":"g","type":"quantitative","scale":{"domain":[0,180],"nice":false},"axis":{"orient":"bottom","values":[0,15,30,45,60,75,90,105,120,135,150,165,180],"labelExpr":"datum.value % 30 === 0 ? datum.value + '°' : ''","tickSize":{"condition":{"test":"datum.value % 30 === 0","value":5},"value":3},"labelOverlap":false,"labelFlush":false,"labelBound":false,"labelPadding":2,"labelFontSize":21,"title":"γₛ","titleFontSize":24,"titlePadding":18}},
    "y":{"field":"e","type":"quantitative","scale":{"domain":[0,0.35],"nice":false,"zero":false},"axis":{"orient":"left","values":[0,0.05,0.1,0.15,0.2,0.25,0.3],"labelExpr":"round(datum.value*100) % 10 === 0 ? format(datum.value, '.1f') : ''","tickSize":{"condition":{"test":"round(datum.value*100) % 10 === 0","value":5},"value":3},"title":null,"labelOverlap":false,"labelFlush":false,"labelBound":false,"labelPadding":1,"labelFontSize":21}}}},
  {"data":{"values":[{}]},
   "layer":[
    {"mark":{"type":"text","text":"600 K surface unit cell","align":"left","baseline":"middle","fontSize":24},
     "encoding":{"x":{"datum":77.5,"type":"quantitative","scale":{"domain":[0,180],"nice":false},"axis":{"orient":"top","values":[0,15,30,45,60,75,90,105,120,135,150,165,180],"labels":false,"tickSize":{"condition":{"test":"datum.value % 30 === 0","value":-5},"value":-3},"title":null}},
      "y":{"datum":0.283,"type":"quantitative","scale":{"domain":[0,0.35],"nice":false,"zero":false},"axis":{"orient":"right","values":[0,0.05,0.1,0.15,0.2,0.25,0.3],"labels":false,"tickSize":{"condition":{"test":"round(datum.value*100) % 10 === 0","value":-5},"value":-3},"title":null}}}},
    {"mark":{"type":"text","text":"(2760 trajectories)","align":"left","baseline":"middle","fontSize":24},"encoding":{"x":{"datum":77,"type":"quantitative"},"y":{"datum":0.219,"type":"quantitative"}}}
   ]}
 ],
 "resolve":{"scale":{"x":"independent","y":"independent"},"axis":{"x":"independent","y":"independent"}}
},
{"width":386,"height":187,
 "layer":[
  {"data":{"name":"rb"},"mark":{"type":"point","shape":"triangle-down","filled":true,"color":"black","opacity":1,"size":85,"strokeWidth":0},
   "encoding":{"x":{"field":"x","type":"quantitative","scale":{"domain":[0,0.3],"nice":false,"zero":false},"axis":{"orient":"bottom","values":[0,0.05,0.1,0.15,0.2,0.25,0.3],"labelExpr":"datum.value === 0 ? '0' : (round(datum.value*100) % 10 === 0 ? format(datum.value, '.1f') : '')","tickSize":{"condition":{"test":"round(datum.value*100) % 10 === 0","value":5},"value":3},"labelOverlap":false,"labelFlush":false,"labelBound":false,"labelPadding":2,"labelFontSize":21,"title":"Eᵣₒₜ / eV","titleFontSize":24,"titlePadding":12}},
    "y":{"field":"l","type":"quantitative","scale":{"domain":[-4.5,2],"nice":false,"zero":false},"axis":{"orient":"right","values":[-4.5,-4,-3.5,-3,-2.5,-2,-1.5,-1,-0.5,0,0.5,1,1.5,2],"labelExpr":"datum.value % 2 === 0 ? '' + datum.value : ''","labelOffset":{"condition":{"test":"datum.value === 2","value":6},"value":0},"tickSize":{"condition":{"test":"datum.value % 1 === 0","value":5},"value":3},"labelOverlap":false,"labelFlush":false,"labelBound":false,"labelPadding":1,"title":null}}}},
  {"data":{"name":"rbc"},"mark":{"type":"line","color":"black","strokeWidth":1.2,"strokeDash":[3,2.5],"interpolate":"monotone"},
   "encoding":{"x":{"field":"x","type":"quantitative","scale":{"domain":[0,0.3],"nice":false,"zero":false},"axis":{"orient":"top","values":[0,0.05,0.1,0.15,0.2,0.25,0.3],"labels":false,"tickSize":{"condition":{"test":"round(datum.value*100) % 10 === 0","value":-5},"value":-3},"title":null}},
    "y":{"field":"l","type":"quantitative","scale":{"domain":[-4.5,2],"nice":false,"zero":false},"axis":null}}}
 ],
 "resolve":{"scale":{"x":"independent","y":"independent"},"axis":{"x":"independent","y":"independent"}}
}
]
}
